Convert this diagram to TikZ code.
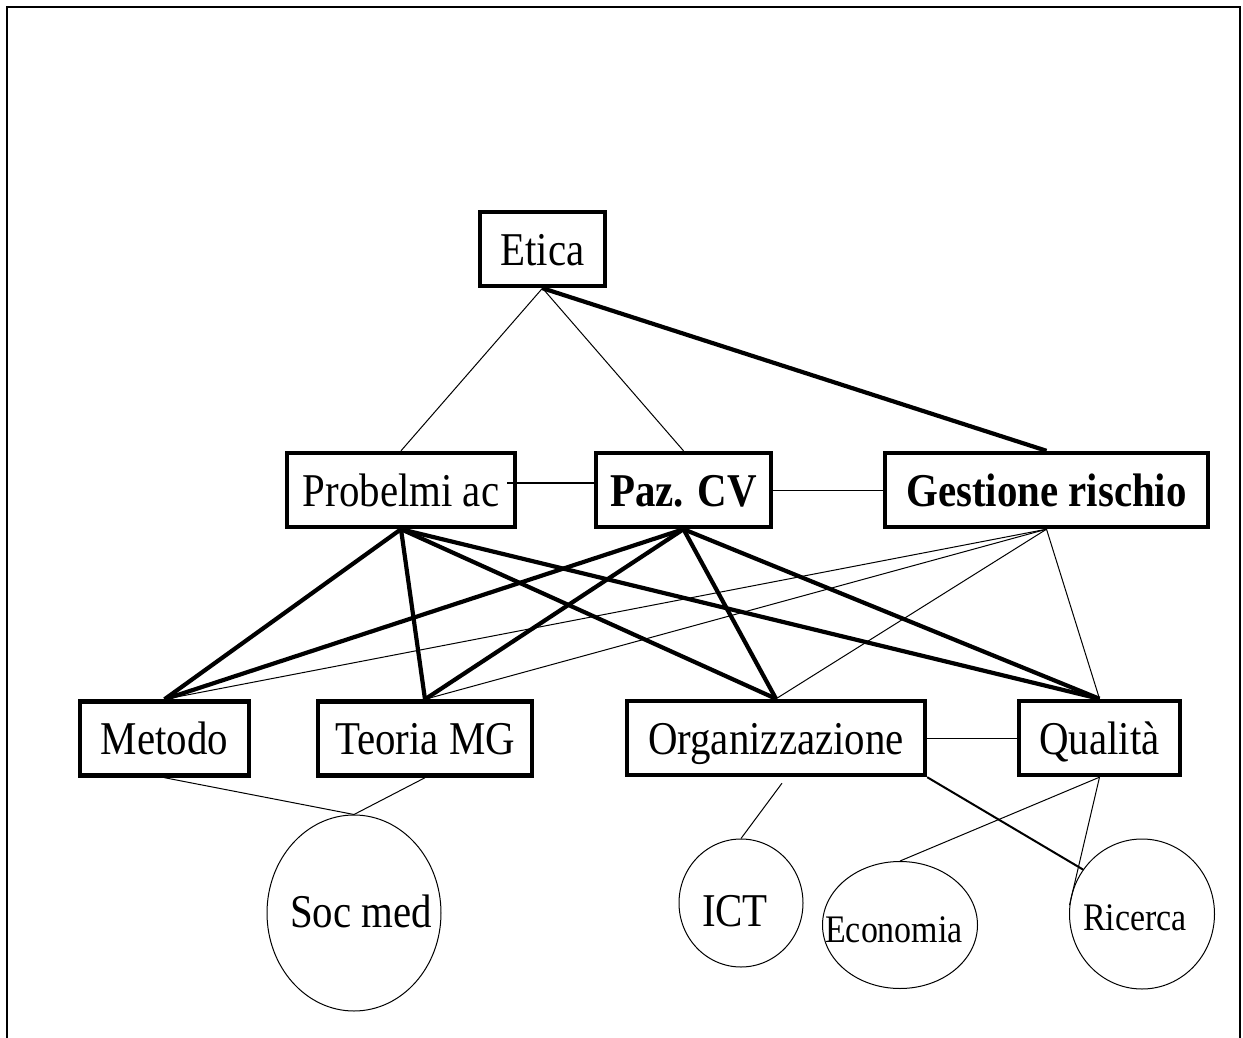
\documentclass[tikz,border=0pt]{standalone}
\usepackage{fontspec}
\setmainfont{Liberation Serif}[FakeStretch=0.87]
\usetikzlibrary{shapes.geometric}

\begin{document}
\begin{tikzpicture}[x=1pt,y=-1pt,
  box/.style={draw, line width=4.4pt, minimum height=74pt, inner sep=0pt,
    text height=32pt, text depth=0pt, font=\fontsize{47pt}{50pt}\selectfont},
  blob/.style={draw, ellipse, line width=1pt, inner sep=0pt},
  lbl/.style={inner sep=0pt, text depth=0pt, font=\fontsize{47pt}{50pt}\selectfont},
  smalllbl/.style={inner sep=0pt, text depth=0pt, font=\fontsize{39pt}{42pt}\selectfont},
  weak/.style={line width=1pt},
  mid/.style={line width=2pt},
  strong/.style={line width=4.2pt},
  frame/.style={line width=1.3pt}]

\useasboundingbox (0,0) rectangle (1243,1038);

% open frame
\draw[frame] (7,1040) -- (7,7) -- (1240,7) -- (1240,1040);

% boxes
\node[box, minimum width=125pt] (etica) at (542.5,249) {Etica};
\node[box, minimum width=228pt] (prob) at (401,490) {Probelmi ac};
\node[box, minimum width=175pt] (paz) at (683.5,490) {\bfseries Paz. CV};
\node[box, minimum width=323pt] (gest) at (1046.5,490) {\bfseries Gestione rischio};
\node[box, minimum width=169pt] (metodo) at (164.5,738.5) {Metodo};
\node[box, minimum width=214pt] (teoria) at (425,738.5) {Teoria MG};
\node[box, minimum width=298pt] (org) at (776,738) {Organizzazione};
\node[box, minimum width=161pt] (qual) at (1099.5,738) {Qualità};

% ellipses, each with its caption set at the centre
\node[blob, minimum width=174pt, minimum height=196pt,
  label={[lbl, text height=29pt, xshift=7pt]center:Soc med}] (soc) at (354,913) {};
\node[blob, minimum width=124pt, minimum height=128pt,
  label={[lbl, text height=47pt, xshift=-6pt]center:ICT}] (ict) at (741,903) {};
\node[blob, minimum width=155pt, minimum height=127pt,
  label={[smalllbl, text height=34pt, xshift=-6pt]center:Economia}] (eco) at (900,925) {};
\node[blob, minimum width=145pt, minimum height=150pt,
  label={[smalllbl, text height=32pt, xshift=-7pt]center:Ricerca}] (ric) at (1142,914) {};

% top level
\draw[weak] (etica.south) -- (prob.north);
\draw[weak] (etica.south) -- (paz.north);
\draw[strong] (etica.south) -- (gest.north);

% middle row
\draw[mid] ([xshift=-10pt,yshift=7pt]prob.east) -- ([xshift=3pt,yshift=7pt]paz.west);
\draw[weak] (paz.east) -- (gest.west);

% middle to lower row
\foreach \s in {metodo,teoria,org,qual} {
  \draw[strong] (prob.south) -- (\s.north);
  \draw[strong] (paz.south) -- (\s.north);
  \draw[weak] (gest.south) -- (\s.north);
}

% lower row
\draw[weak] (org.east) -- (qual.west);
\draw[weak] (metodo.south) -- (soc.north);
\draw[weak] (teoria.south) -- (soc.north);
\draw[weak] ([xshift=6pt,yshift=-6pt]org.south) -- (ict.north);
\draw[mid] (org.south east) -- (ric.143);
\draw[weak] (qual.south) -- (eco.north);
\draw[weak] (qual.south) -- (ric.173);

\end{tikzpicture}
\end{document}
